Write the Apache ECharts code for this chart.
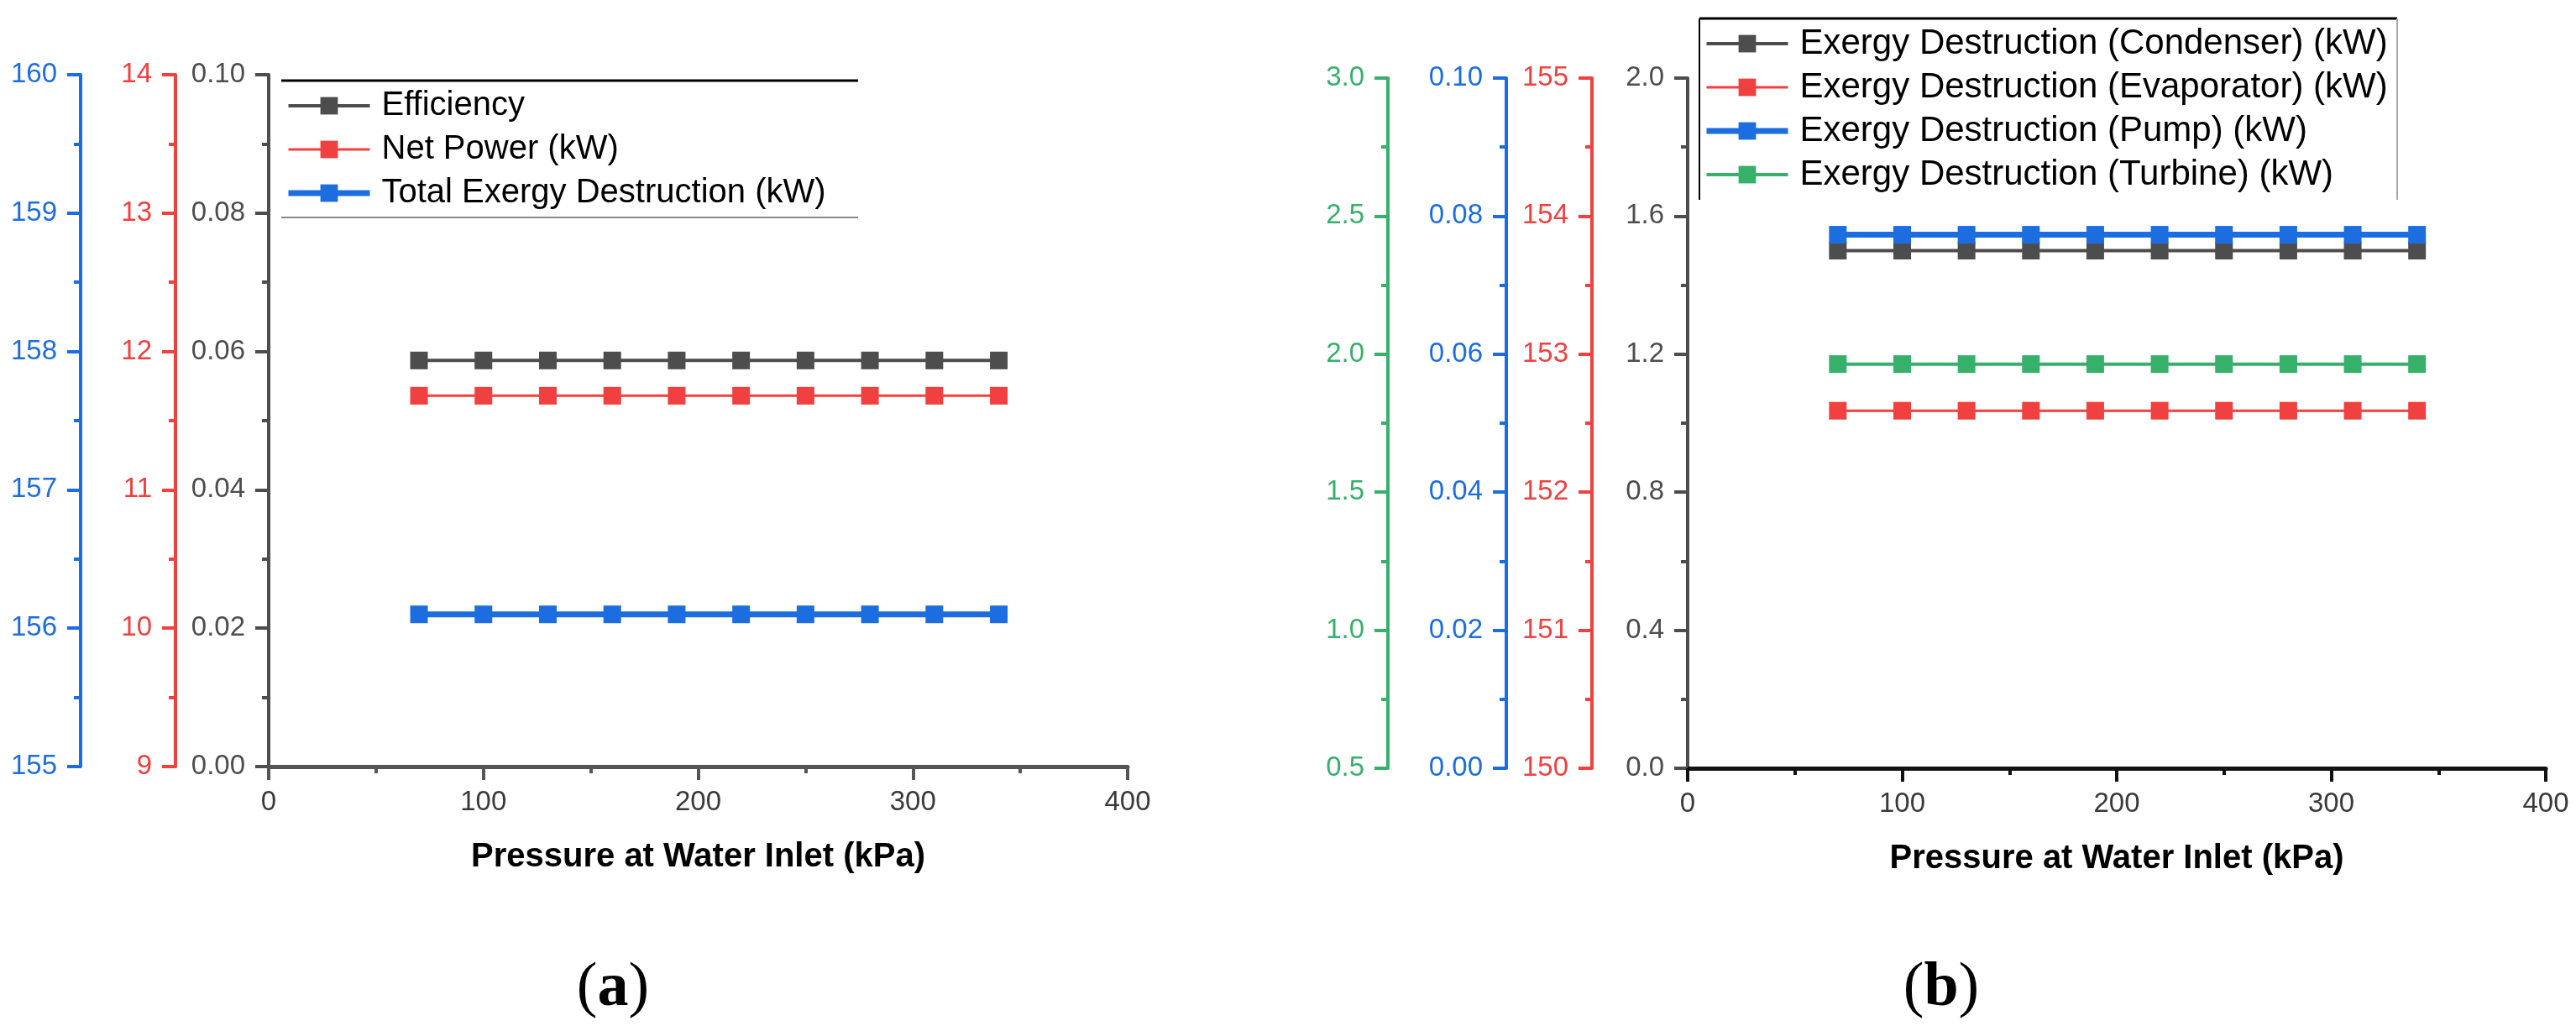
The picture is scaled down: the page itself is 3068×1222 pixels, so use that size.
<!DOCTYPE html>
<html>
<head>
<meta charset="utf-8">
<title>Pressure at Water Inlet</title>
<script src="https://cdn.jsdelivr.net/npm/echarts@6/dist/echarts.min.js"></script>
<style>
  html, body { margin: 0; padding: 0; background: #fff; }
  #chart { width: 3068px; height: 1222px; }
</style>
</head>
<body>
<div id="chart"></div>
<script>
// Data
const pressure = [70, 100, 130, 160, 190, 220, 250, 280, 310, 340];

// panel (a)
const efficiency = [0.0587, 0.0587, 0.0587, 0.0587, 0.0587, 0.0587, 0.0587, 0.0587, 0.0587, 0.0587];
const netPower = [11.68, 11.68, 11.68, 11.68, 11.68, 11.68, 11.68, 11.68, 11.68, 11.68];
const totalExergy = [156.10, 156.10, 156.10, 156.10, 156.10, 156.10, 156.10, 156.10, 156.10, 156.10];

// panel (b)
const condenser = [1.50, 1.50, 1.50, 1.50, 1.50, 1.50, 1.50, 1.50, 1.50, 1.50];
const evaporator = [152.59, 152.59, 152.59, 152.59, 152.59, 152.59, 152.59, 152.59, 152.59, 152.59];
const pump = [0.0773, 0.0773, 0.0773, 0.0773, 0.0773, 0.0773, 0.0773, 0.0773, 0.0773, 0.0773];
const turbine = [1.964, 1.964, 1.964, 1.964, 1.964, 1.964, 1.964, 1.964, 1.964, 1.964];

const namesA = ['Efficiency', 'Net Power (kW)', 'Total Exergy Destruction (kW)'];
const namesB = [
    'Exergy Destruction (Condenser) (kW)',
    'Exergy Destruction (Evaporator) (kW)',
    'Exergy Destruction (Pump) (kW)',
    'Exergy Destruction (Turbine) (kW)'
];
const xTitle = 'Pressure at Water Inlet (kPa)';

const DARK = '#4d4d4d';
const RED = '#f0403f';
const BLUE = '#1c6ddf';
const GREEN = '#36b06b';
const FONT = '"Liberation Sans", Arial, sans-serif';

// line widths per series, same order as the names
const widthsA = [4, 3, 7];
const widthsB = [4, 3, 7, 4];

function pairs(ys) {
    return pressure.map((x, i) => [x, ys[i]]);
}

function yAxis(grid, color, offset, min, max, interval, digits) {
    return {
        type: 'value',
        gridIndex: grid,
        position: 'left',
        offset: offset,
        min: min,
        max: max,
        interval: interval,
        axisLine: { show: true, onZero: false, lineStyle: { color: color, width: 4 } },
        axisTick: { show: true, length: 16, lineStyle: { color: color, width: 4 } },
        minorTick: { show: true, splitNumber: 2, length: 8, lineStyle: { color: color, width: 4 } },
        splitLine: { show: false },
        axisLabel: {
            color: color,
            fontSize: 33,
            fontFamily: FONT,
            margin: 28,
            formatter: v => v.toFixed(digits)
        }
    };
}

function xAxis(grid, lineColor) {
    return {
        type: 'value',
        gridIndex: grid,
        min: 0,
        max: 400,
        interval: 100,
        name: xTitle,
        nameLocation: 'middle',
        nameGap: 88,
        nameTextStyle: { color: '#000', fontSize: 40, fontWeight: 'bold', fontFamily: FONT },
        axisLine: { show: true, onZero: false, lineStyle: { color: lineColor, width: 5 } },
        axisTick: { show: true, length: 16, lineStyle: { color: lineColor, width: 4 } },
        minorTick: { show: true, splitNumber: 2, length: 8, lineStyle: { color: lineColor, width: 4 } },
        splitLine: { show: false },
        axisLabel: { color: '#3a3a3a', fontSize: 33, fontFamily: FONT, margin: 26 }
    };
}

function lineSeries(name, xi, yi, color, width, ys) {
    return {
        name: name,
        type: 'line',
        xAxisIndex: xi,
        yAxisIndex: yi,
        data: pairs(ys),
        symbol: 'rect',
        symbolSize: 21,
        lineStyle: { color: color, width: width },
        itemStyle: { color: color },
        emphasis: { disabled: true }
    };
}

const legendText = size => ({
    color: '#000',
    fontSize: size,
    fontFamily: FONT,
    lineHeight: size,
    padding: [0, 0, 0, 9]
});

function legendItems(names, widths) {
    return names.map((n, i) => ({ name: n, lineStyle: { width: widths[i] } }));
}

const chart = echarts.init(document.getElementById('chart'));

const option = {
    animation: false,
    backgroundColor: '#fff',
    grid: [
        { left: 320, top: 89, width: 1023, height: 824 },
        { left: 2010, top: 93, width: 1022, height: 822 }
    ],
    xAxis: [xAxis(0, '#555'), xAxis(1, '#111')],
    yAxis: [
        yAxis(0, DARK, 0, 0, 0.10, 0.02, 2),
        yAxis(0, RED, 111, 9, 14, 1, 0),
        yAxis(0, BLUE, 224, 155, 160, 1, 0),
        yAxis(1, DARK, 0, 0, 2.0, 0.4, 1),
        yAxis(1, RED, 114, 150, 155, 1, 0),
        yAxis(1, BLUE, 216, 0, 0.10, 0.02, 2),
        yAxis(1, GREEN, 357, 0.5, 3.0, 0.5, 1)
    ],
    legend: [
        {
            data: legendItems(namesA, widthsA),
            orient: 'vertical',
            left: 340,
            top: 106,
            padding: 0,
            itemWidth: 97,
            itemHeight: 26,
            itemGap: 12,
            selectedMode: false,
            textStyle: legendText(40)
        },
        {
            data: legendItems(namesB, widthsB),
            orient: 'vertical',
            left: 2029,
            top: 31,
            padding: 0,
            itemWidth: 97,
            itemHeight: 26,
            itemGap: 10,
            selectedMode: false,
            textStyle: legendText(42)
        }
    ],
    series: [
        lineSeries(namesA[0], 0, 0, DARK, widthsA[0], efficiency),
        lineSeries(namesA[1], 0, 1, RED, widthsA[1], netPower),
        lineSeries(namesA[2], 0, 2, BLUE, widthsA[2], totalExergy),
        lineSeries(namesB[0], 1, 3, DARK, widthsB[0], condenser),
        lineSeries(namesB[1], 1, 4, RED, widthsB[1], evaporator),
        lineSeries(namesB[2], 1, 5, BLUE, widthsB[2], pump),
        lineSeries(namesB[3], 1, 6, GREEN, widthsB[3], turbine)
    ],
    graphic: [
        // legend frame (a): top and bottom rules
        { type: 'line', shape: { x1: 335, y1: 96, x2: 1022, y2: 96 }, style: { stroke: '#000', lineWidth: 3 } },
        { type: 'line', shape: { x1: 335, y1: 259, x2: 1022, y2: 259 }, style: { stroke: '#888', lineWidth: 2 } },
        // legend frame (b): top, left, right
        { type: 'line', shape: { x1: 2024, y1: 22, x2: 2855, y2: 22 }, style: { stroke: '#000', lineWidth: 3 } },
        { type: 'line', shape: { x1: 2024, y1: 22, x2: 2024, y2: 238 }, style: { stroke: '#000', lineWidth: 2 } },
        { type: 'line', shape: { x1: 2855, y1: 22, x2: 2855, y2: 238 }, style: { stroke: '#aaa', lineWidth: 2 } },
        // panel labels
        {
            type: 'text', x: 730, y: 1178,
            style: {
                text: '{p|(}{b|a}{p|)}',
                align: 'center', verticalAlign: 'middle',
                rich: {
                    p: { fontFamily: '"Liberation Serif", serif', fontSize: 74, fill: '#000' },
                    b: { fontFamily: '"Liberation Serif", serif', fontSize: 74, fontWeight: 'bold', fill: '#000' }
                }
            }
        },
        {
            type: 'text', x: 2312, y: 1178,
            style: {
                text: '{p|(}{b|b}{p|)}',
                align: 'center', verticalAlign: 'middle',
                rich: {
                    p: { fontFamily: '"Liberation Serif", serif', fontSize: 74, fill: '#000' },
                    b: { fontFamily: '"Liberation Serif", serif', fontSize: 74, fontWeight: 'bold', fill: '#000' }
                }
            }
        }
    ]
};

chart.setOption(option);

window.addEventListener('resize', function() {
    chart.resize();
});
</script>
</body>
</html>
